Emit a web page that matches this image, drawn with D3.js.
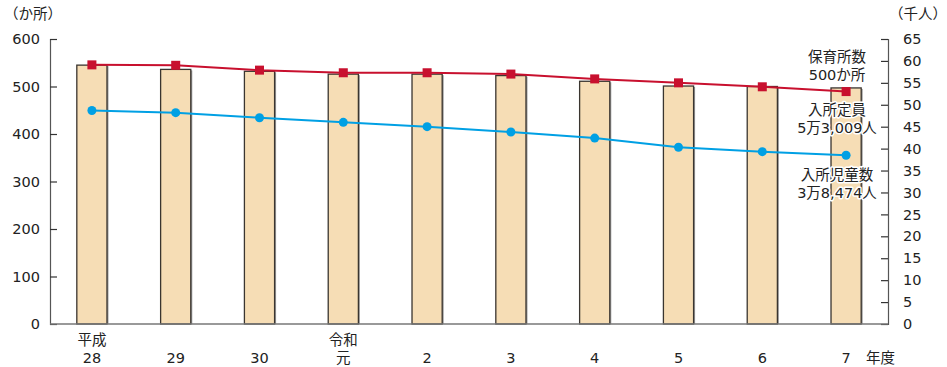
<!DOCTYPE html>
<html><head><meta charset="utf-8">
<script src="https://cdn.jsdelivr.net/npm/d3@7"></script>
<style>
body{margin:0;background:#fff;}
text{font-family:"DejaVu Sans","Noto Sans CJK JP",sans-serif;fill:#222;}
</style></head>
<body><svg id="c" width="947" height="367"></svg>
<script>
const eraLabels = ["平成","","","令和","","","","","",""];
const yearLabels = ["28","29","30","元","2","3","4","5","6","7"];
const nurseries = [545,536,532,526,526,523,511,501,500,497];      // か所 (left)
const capacity  = [59.1,59.0,57.9,57.3,57.3,57.0,55.9,55.0,54.1,53.009]; // 千人 (right)
const enrolled  = [48.7,48.2,47.05,46.0,45.0,43.8,42.4,40.3,39.3,38.474]; // 千人 (right)
const leftTicks = [0,100,200,300,400,500,600];
const rightTicks = d3.range(0,66,5);

const svg = d3.select("#c");
const L=50, R=888, T=39, B=324;
const x = d3.scaleBand().domain(yearLabels.map((d,i)=>i)).range([L,R]).padding(0);
const yL = d3.scaleLinear().domain([0,600]).range([B,T]);
const yR = d3.scaleLinear().domain([0,65]).range([B,T]);
const bw = x.bandwidth()*0.36;
const cx = i => x(i)+x.bandwidth()/2;

// bars
const bars = svg.append("g");
bars.selectAll("rect.sh").data(nurseries).join("rect")
  .attr("x",(d,i)=>cx(i)-bw/2+1.5).attr("y",d=>yL(d)+1).attr("width",bw).attr("height",d=>B-yL(d)-1)
  .attr("fill","#9a9a9a");
bars.selectAll("rect.b").data(nurseries).join("rect")
  .attr("x",(d,i)=>cx(i)-bw/2).attr("y",d=>yL(d)).attr("width",bw).attr("height",d=>B-yL(d))
  .attr("fill","#f6ddb5").attr("stroke","#3a3530").attr("stroke-width",1.3);

// axes
const axL = svg.append("g").attr("transform",`translate(${L},0)`)
  .call(d3.axisLeft(yL).tickValues(leftTicks).tickSize(-7).tickPadding(10));
const axR = svg.append("g").attr("transform",`translate(${R},0)`)
  .call(d3.axisRight(yR).tickValues(rightTicks).tickSize(-7).tickPadding(15));
[axL,axR].forEach(a=>{
  a.select(".domain").attr("stroke","#555").attr("stroke-width",1.2);
  a.selectAll(".tick line").attr("stroke","#333").attr("stroke-width",1.2);
  a.selectAll(".tick text").attr("font-size",14.5).attr("fill","#222")
   .attr("font-family","'DejaVu Sans',sans-serif");
});
svg.append("line").attr("x1",L).attr("x2",R).attr("y1",B).attr("y2",B)
  .attr("stroke","#777").attr("stroke-width",1.5);

// lines
const lineR = d3.line().x((d,i)=>cx(i)).y(d=>yR(d));
svg.append("path").datum(capacity).attr("d",lineR).attr("fill","none")
  .attr("stroke","#c8102e").attr("stroke-width",2);
svg.append("path").datum(enrolled).attr("d",lineR).attr("fill","none")
  .attr("stroke","#00a0e4").attr("stroke-width",2);
svg.selectAll("rect.m").data(capacity).join("rect")
  .attr("x",(d,i)=>cx(i)-4.5).attr("y",d=>yR(d)-4.5).attr("width",9).attr("height",9)
  .attr("fill","#c8102e");
svg.selectAll("circle.m").data(enrolled).join("circle")
  .attr("cx",(d,i)=>cx(i)).attr("cy",d=>yR(d)).attr("r",4.5).attr("fill","#00a0e4");

// x labels
const xl = svg.append("g").attr("font-size",14.5);
xl.selectAll("text.era").data(eraLabels).join("text")
  .attr("x",(d,i)=>cx(i)).attr("y",345).attr("text-anchor","middle").text(d=>d);
xl.selectAll("text.yr").data(yearLabels).join("text")
  .attr("x",(d,i)=>cx(i)).attr("y",363).attr("text-anchor","middle").text(d=>d);
svg.append("text").attr("x",866).attr("y",363).attr("font-size",14.5).text("年度");

// unit labels
svg.append("text").attr("x",4).attr("y",19).attr("font-size",14.5).text("（か所）");
svg.append("text").attr("x",889).attr("y",19).attr("font-size",14.5).text("（千人）");

// annotations
const ann = [
  {t:"保育所数",y:62},{t:"500か所",y:80},
  {t:"入所定員",y:115},{t:"5万3,009人",y:133},
  {t:"入所児童数",y:180},{t:"3万8,474人",y:198}];
svg.append("g").selectAll("text").data(ann).join("text")
  .attr("x",837).attr("y",d=>d.y).attr("text-anchor","middle").attr("font-size",14.5)
  .attr("stroke","#fff").attr("stroke-width",3).attr("paint-order","stroke")
  .attr("stroke-linejoin","round").text(d=>d.t);
</script></body></html>
